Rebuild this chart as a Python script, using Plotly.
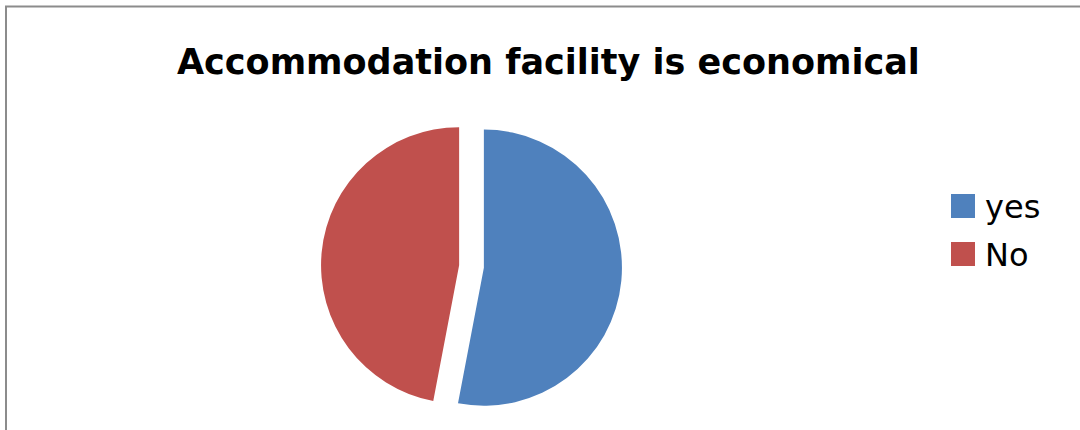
import plotly.graph_objects as go

# Data
labels = ["yes", "No"]
values = [53, 47]
colors = ["#4F81BD", "#C0504D"]
title_text = "Accommodation facility is economical"

W, H = 1080, 430


def px(x):
    return x / W


def py(y):
    return 1 - y / H


fig = go.Figure()
fig.add_trace(go.Pie(
    labels=labels,
    values=values,
    marker=dict(colors=colors, line=dict(width=0)),
    sort=False,
    direction="clockwise",
    rotation=0,
    pull=[0.09, 0.09],
    textinfo="none",
    hoverinfo="label+value",
    showlegend=False,
    domain=dict(x=[px(321), px(622)], y=[py(417), py(116)]),
))

# Border (chart area frame)
fig.add_shape(type="rect", xref="paper", yref="paper",
              x0=px(6), x1=1.05, y0=-0.05, y1=py(6.5),
              line=dict(color="#8C8C8C", width=2), fillcolor="rgba(0,0,0,0)")

# Title
fig.add_annotation(text="<b>" + title_text + "</b>", xref="paper", yref="paper",
                   x=px(548), y=py(62), xanchor="center", yanchor="middle",
                   showarrow=False, font=dict(family="DejaVu Sans", size=35, color="#000000"))

# Custom legend built from the label/color arrays
leg_y = [206, 254]
for lab, col, yc in zip(labels, colors, leg_y):
    fig.add_shape(type="rect", xref="paper", yref="paper",
                  x0=px(951), x1=px(975), y0=py(yc + 12), y1=py(yc - 12),
                  line=dict(width=0), fillcolor=col)
    fig.add_annotation(text=lab, xref="paper", yref="paper",
                       x=px(983), y=py(yc + 1), xanchor="left", yanchor="middle",
                       showarrow=False, font=dict(family="DejaVu Sans", size=32, color="#000000"))

fig.update_layout(
    width=W, height=H,
    margin=dict(l=0, r=0, t=0, b=0),
    paper_bgcolor="white", plot_bgcolor="white",
)

fig.write_html("out.html", config={"displayModeBar": False},
               post_script="document.body.style.margin='0';")
